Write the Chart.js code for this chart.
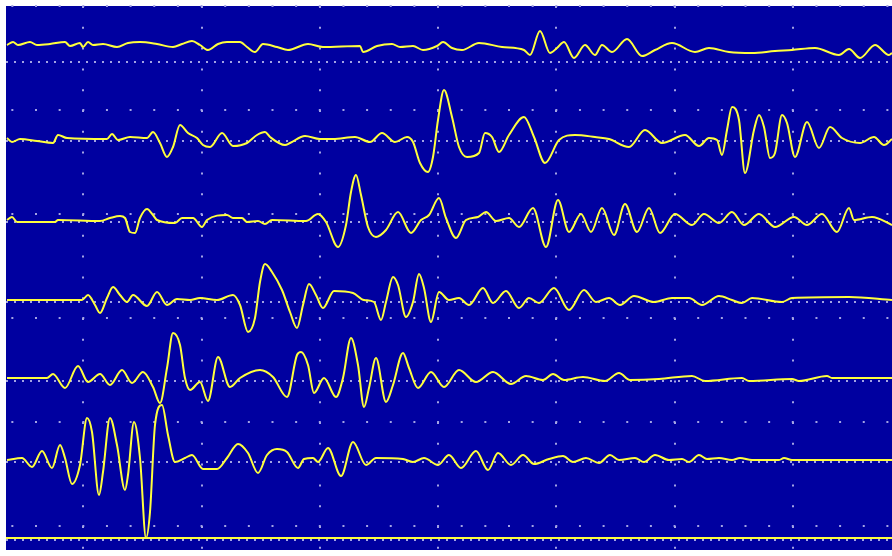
<!DOCTYPE html>
<html>
<head>
<meta charset="utf-8">
<script src="https://cdn.jsdelivr.net/npm/chart.js@4.4.1/dist/chart.umd.min.js"></script>
<style>
  html, body { margin: 0; padding: 0; background: #ffffff; }
  #wrap { width: 892px; height: 556px; }
</style>
</head>
<body>
<div id="wrap"><canvas id="seis"></canvas></div>
<script>
// time (sample) positions of the major grid lines and amplitude rows
const timeGrid = [83.3, 201.5, 319.8, 438, 556.2, 674.5, 792.7]
const ampRows = [550, 446, 342, 238, 134, 30]
const zeroLines = [494, 415, 334, 254, 175, 94, 16]
const channelOffsets = [511, 416, 335, 256, 178, 96, 18]

// each channel: [sample, amplitude]
const ch1 = [[7,0],[13,3],[18,0],[30,3],[37,0],[50,1],[65,3],[70,-1],[80,2],[83,-2],[88,3],[93,0],[103,1],[117,-2],[128,2],[140,3],[157,1],[173,-2],[182,1],[192,4],[200,0],[208,-5],[218,1],[227,3],[240,3],[247,-2],[255,-7],[263,1],[277,-2],[288,-5],[308,1],[323,-2],[360,-1],[363,-7],[377,-1],[392,1],[400,-2],[413,-1],[423,-5],[437,-1],[443,3],[452,-3],[462,-5],[479,2],[502,-2],[524,-5],[530,-10],[540,14],[550,-8],[557,-3],[564,3],[574,-13],[585,0],[595,-10],[602,0],[612,-7],[627,6],[642,-11],[655,-5],[672,2],[695,-7],[709,-3],[729,-7],[752,-8],[775,-6],[792,-5],[815,-3],[839,-10],[849,-4],[860,-13],[875,0],[889,-10],[892,-8]]
const ch2 = [[7,2],[12,-2],[20,1],[37,-1],[53,-3],[58,5],[67,2],[107,1],[112,6],[118,0],[130,3],[147,2],[153,8],[160,-3],[167,-17],[173,-7],[180,15],[188,7],[197,2],[203,-5],[210,-7],[222,7],[233,-6],[247,-3],[257,5],[265,8],[270,3],[285,-5],[290,-3],[305,4],[320,1],[333,1],[355,3],[370,-2],[382,7],[395,-2],[407,3],[413,-2],[420,-23],[428,-32],[433,-17],[438,20],[444,50],[452,23],[459,-7],[467,-17],[479,-13],[485,7],[492,3],[499,-12],[509,5],[524,23],[534,3],[545,-23],[559,0],[575,5],[595,3],[609,1],[629,-7],[645,10],[662,-3],[685,5],[699,-6],[709,2],[717,0],[722,-15],[727,10],[732,33],[739,20],[745,-33],[754,10],[759,25],[764,13],[770,-18],[775,-13],[782,25],[787,17],[795,-17],[807,18],[819,-8],[830,13],[842,2],[860,-3],[874,3],[884,-5],[892,1]]
const ch3 = [[7,1],[12,4],[17,-1],[55,-1],[58,1],[100,0],[110,3],[120,5],[125,3],[130,-11],[135,-12],[140,3],[147,12],[153,6],[157,1],[175,-2],[182,3],[193,3],[202,-6],[207,1],[227,6],[233,3],[242,3],[247,-1],[258,0],[265,-3],[272,1],[306,0],[318,7],[326,-1],[338,-26],[346,-4],[351,29],[356,46],[361,26],[368,-6],[376,-16],[386,-9],[398,9],[411,-12],[421,1],[429,6],[439,23],[446,3],[456,-17],[466,1],[478,4],[486,9],[496,0],[509,3],[519,-6],[533,13],[546,-26],[558,21],[569,-11],[581,7],[591,-11],[602,13],[614,-14],[625,17],[637,-11],[649,13],[660,-12],[675,7],[692,-4],[704,7],[719,-2],[732,9],[744,-4],[759,7],[775,-6],[794,4],[807,-4],[822,7],[837,-11],[849,13],[854,1],[872,4],[892,-4]]
const ch4 = [[7,0],[82,0],[88,5],[95,-5],[100,-13],[107,2],[113,13],[120,5],[127,-2],[133,5],[147,-6],[157,8],[167,-5],[177,1],[190,0],[200,2],[217,0],[233,5],[240,-5],[248,-32],[255,-18],[260,18],[265,36],[272,28],[282,10],[290,-12],[297,-28],[303,-5],[309,16],[316,5],[323,-8],[334,9],[353,7],[364,0],[374,-2],[381,-20],[386,-2],[393,23],[398,15],[406,-17],[413,-2],[419,26],[424,12],[431,-22],[439,8],[449,0],[459,2],[469,-5],[483,12],[493,-3],[506,9],[519,-8],[529,2],[539,-3],[554,12],[569,-10],[584,10],[596,-2],[609,2],[620,-5],[634,4],[654,-2],[672,2],[689,2],[702,-5],[719,4],[732,0],[742,-3],[752,2],[782,-2],[792,2],[849,3],[892,0]]
const ch5 = [[7,0],[47,0],[53,4],[65,-10],[78,12],[88,-4],[100,4],[110,-7],[122,8],[132,-5],[143,6],[153,-9],[160,-25],[167,10],[173,45],[180,33],[185,0],[190,-12],[200,-4],[208,-23],[218,21],[230,-9],[240,0],[260,8],[273,1],[287,-19],[297,23],[301,26],[308,13],[314,-15],[324,0],[336,-19],[343,0],[351,40],[358,13],[364,-29],[369,-10],[376,20],[386,-24],[393,-7],[403,25],[409,10],[418,-10],[431,6],[444,-9],[459,8],[476,-4],[493,6],[511,-6],[526,2],[543,-2],[553,4],[564,-2],[583,1],[605,-3],[619,5],[630,-2],[659,-1],[692,2],[705,-3],[742,0],[749,-3],[792,-1],[799,-3],[827,2],[832,0],[892,0]]
const ch6 = [[7,0],[22,2],[32,-7],[42,9],[52,-8],[60,15],[65,2],[72,-24],[80,-5],[87,42],[92,28],[99,-35],[103,-12],[110,42],[117,15],[125,-30],[128,-15],[134,38],[140,2],[146,-78],[150,-52],[155,35],[162,55],[168,25],[175,-2],[185,2],[192,5],[203,-9],[217,-9],[227,2],[238,16],[248,7],[258,-13],[267,5],[277,11],[287,8],[298,-8],[304,1],[313,2],[318,-2],[328,12],[341,-16],[353,18],[366,-5],[376,2],[403,1],[413,-2],[424,2],[438,-5],[449,5],[461,-8],[476,9],[488,-10],[498,7],[511,-5],[523,5],[534,-4],[549,1],[563,4],[573,-2],[586,2],[599,-3],[610,5],[619,0],[635,2],[644,-2],[655,5],[669,0],[682,1],[689,-2],[699,5],[707,1],[719,2],[732,0],[740,2],[752,0],[779,0],[784,2],[792,0],[892,0]]
const ch7 = [[6,0],[892,0]]

const channels = [ch1, ch2, ch3, ch4, ch5, ch6, ch7]

const screenBg = {
  id: 'screenBg',
  beforeDraw(chart) {
    const { ctx, chartArea: a } = chart
    ctx.save()
    ctx.fillStyle = '#0000a0'
    ctx.fillRect(a.left, a.top, a.right - a.left, a.bottom - a.top)
    ctx.restore()
  }
}

const dotColor = '#a4a4e4'

new Chart('seis', {
  type: 'line',
  data: {
    datasets: channels.map((ch, i) => ({
      data: ch.map(([t, a]) => ({ x: t, y: channelOffsets[i] + a })),
      borderColor: '#ffff3c',
      borderWidth: 2,
      pointRadius: 0,
      cubicInterpolationMode: 'monotone',
      fill: false
    }))
  },
  options: {
    responsive: true,
    maintainAspectRatio: false,
    animation: false,
    layout: { padding: { left: 6, top: 6, right: 0, bottom: 6 } },
    plugins: { legend: { display: false }, tooltip: { enabled: false } },
    scales: {
      x: {
        type: 'linear', min: 6, max: 892,
        afterBuildTicks: s => { s.ticks = timeGrid.map(v => ({ value: v })) },
        ticks: { display: false },
        grid: { color: dotColor, lineWidth: 2, drawTicks: false },
        border: { display: false, dash: [2, 18.8], dashOffset: 0 }
      },
      y: {
        type: 'linear', min: 6, max: 550, position: 'left',
        afterBuildTicks: s => { s.ticks = ampRows.map(v => ({ value: v })) },
        ticks: { display: false },
        grid: { color: dotColor, lineWidth: 2, drawTicks: false },
        border: { display: false, dash: [2, 21.65], dashOffset: 18.3 }
      },
      zero: {
        type: 'linear', min: 6, max: 550, position: 'left',
        afterBuildTicks: s => { s.ticks = zeroLines.map(v => ({ value: v })) },
        ticks: { display: false },
        grid: { color: dotColor, lineWidth: 2, drawTicks: false },
        border: { display: false, dash: [2, 6], dashOffset: 0 }
      }
    }
  },
  plugins: [screenBg]
})
</script>
</body>
</html>
